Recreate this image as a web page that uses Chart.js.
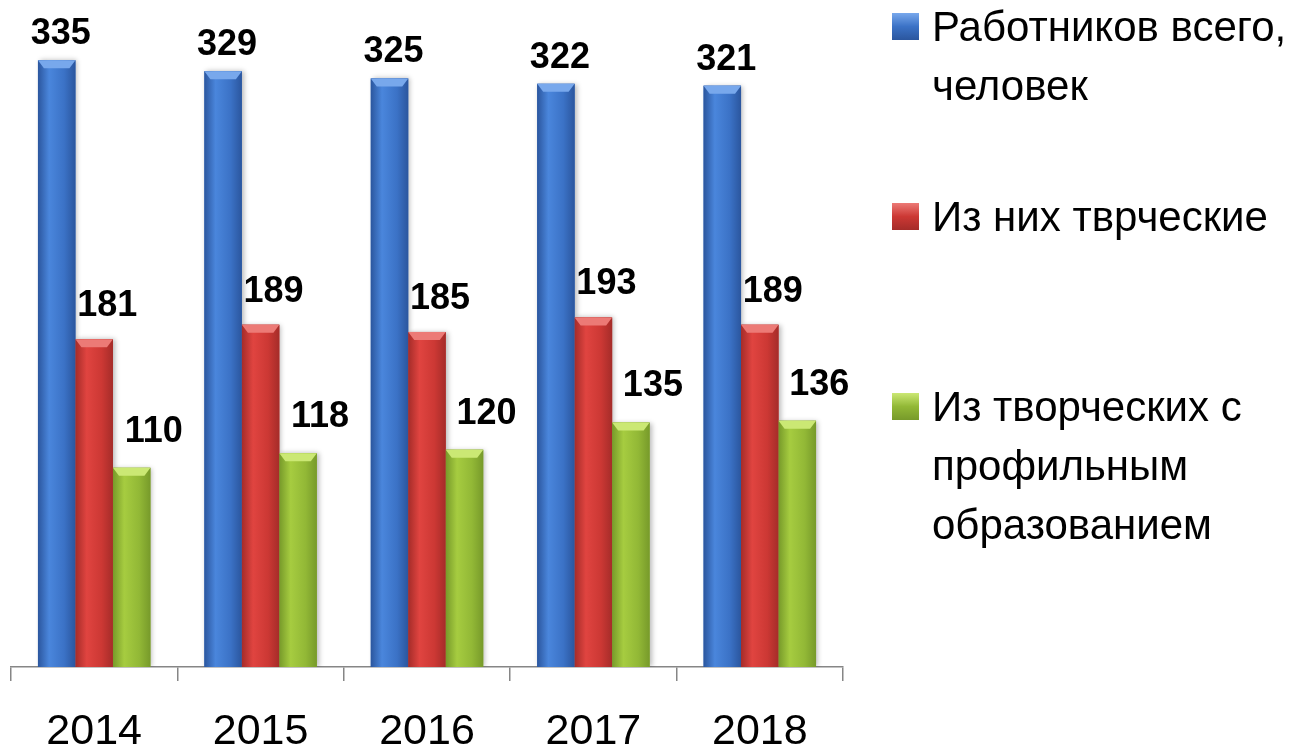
<!DOCTYPE html>
<html>
<head>
<meta charset="utf-8">
<script src="https://cdn.jsdelivr.net/npm/chart.js@4/dist/chart.umd.min.js"></script>
<style>
  html, body { margin: 0; padding: 0; background: #fff; }
  #wrap { width: 1305px; height: 748px; }
</style>
</head>
<body>
<div id="wrap"><canvas id="chart-staff"></canvas></div>
<script>
const years = ["2014", "2015", "2016", "2017", "2018"];
const totalWorkers = [335, 329, 325, 322, 321];
const creativeWorkers = [181, 189, 185, 193, 189];
const creativeWithEducation = [110, 118, 120, 135, 136];
const seriesNames = [
  "Работников всего, человек",
  "Из них тврческие",
  "Из творческих с профильным образованием",
];
// legend lines as wrapped in the original
const legendLines = [
  ["Работников всего,", "человек"],
  ["Из них тврческие"],
  ["Из творческих с", "профильным", "образованием"],
];

const palettes = [
  { edge: "#2b569e", light: "#4a86dc", mid: "#3b72c6", cap: "#78a8ec" },
  { edge: "#a52c29", light: "#e04440", mid: "#cc3834", cap: "#ec7a76" },
  { edge: "#779a2a", light: "#a6cc40", mid: "#92b836", cap: "#cbe874" },
];
// label placement relative to bar (x shift, distance of text centre above bar top)
const labelShift = [
  { dx: 4, dy: 26 },
  { dx: 13, dy: 33 },
  { dx: 22, dy: 36 },
];

const barLook = {
  id: "barLook",
  beforeDatasetsDraw(chart) {
    const c = chart.ctx;
    c.save();
    c.shadowColor = "rgba(0,0,0,0.28)";
    c.shadowBlur = 5;
    c.shadowOffsetX = 2;
  },
  afterDatasetsDraw(chart) {
    const c = chart.ctx;
    c.restore();
    chart.data.datasets.forEach((ds, i) => {
      const p = palettes[i];
      chart.getDatasetMeta(i).data.forEach((el, j) => {
        const { x, y, base, width } = el.getProps(["x", "y", "base", "width"], true);
        const left = x - width / 2;
        const g = c.createLinearGradient(left, 0, left + width, 0);
        g.addColorStop(0, p.edge);
        g.addColorStop(0.3, p.light);
        g.addColorStop(0.7, p.mid);
        g.addColorStop(1, p.edge);
        c.fillStyle = g;
        c.fillRect(left, y, width, base - y);
        c.beginPath();
        c.moveTo(left, y);
        c.lineTo(left + width, y);
        c.lineTo(left + width - 6, y + 8);
        c.lineTo(left + 6, y + 8);
        c.closePath();
        c.fillStyle = p.cap;
        c.fill();

        c.fillStyle = "#000";
        c.font = "bold 36px 'Liberation Sans', Arial, sans-serif";
        c.textAlign = "center";
        c.textBaseline = "middle";
        c.fillText(String(ds.data[j]), x + labelShift[i].dx, y - labelShift[i].dy);
      });
    });
  },
  afterDraw(chart) {
    const c = chart.ctx;
    c.save();
    c.font = "42px 'Liberation Sans', Arial, sans-serif";
    c.textAlign = "left";
    c.textBaseline = "alphabetic";
    legendLines.forEach((lines, i) => {
      const p = palettes[i];
      const top = 13 + i * 190;
      const g = c.createLinearGradient(0, top, 0, top + 27);
      g.addColorStop(0, p.cap);
      g.addColorStop(0.5, p.mid);
      g.addColorStop(1, p.edge);
      c.fillStyle = g;
      c.fillRect(892, top, 27, 27);
      c.fillStyle = "#000";
      lines.forEach((t, k) => c.fillText(t, 932, top + 28 + k * 59));
    });
    c.restore();
  },
};

new Chart(document.getElementById("chart-staff").getContext("2d"), {
  type: "bar",
  data: {
    labels: years,
    datasets: [
      { label: seriesNames[0], data: totalWorkers, backgroundColor: palettes[0].mid },
      { label: seriesNames[1], data: creativeWorkers, backgroundColor: palettes[1].mid },
      { label: seriesNames[2], data: creativeWithEducation, backgroundColor: palettes[2].mid },
    ],
  },
  options: {
    responsive: true,
    maintainAspectRatio: false,
    animation: false,
    layout: { padding: { top: 15, left: 11, right: 462, bottom: 0 } },
    datasets: { bar: { categoryPercentage: 0.676, barPercentage: 1 } },
    plugins: { legend: { display: false }, tooltip: { enabled: false } },
    scales: {
      x: {
        grid: {
          offset: true,
          drawOnChartArea: false,
          drawTicks: true,
          tickLength: 14,
          color: "#868686",
          lineWidth: 1.5,
        },
        border: { color: "#868686", width: 1.5 },
        ticks: {
          color: "#000",
          padding: 25,
          font: { family: "'Liberation Sans', Arial, sans-serif", size: 43 },
        },
        afterFit(scale) { scale.height = 81; },
      },
      y: { display: false, min: 0, max: 360 },
    },
  },
  plugins: [barLook],
});
</script>
</body>
</html>
